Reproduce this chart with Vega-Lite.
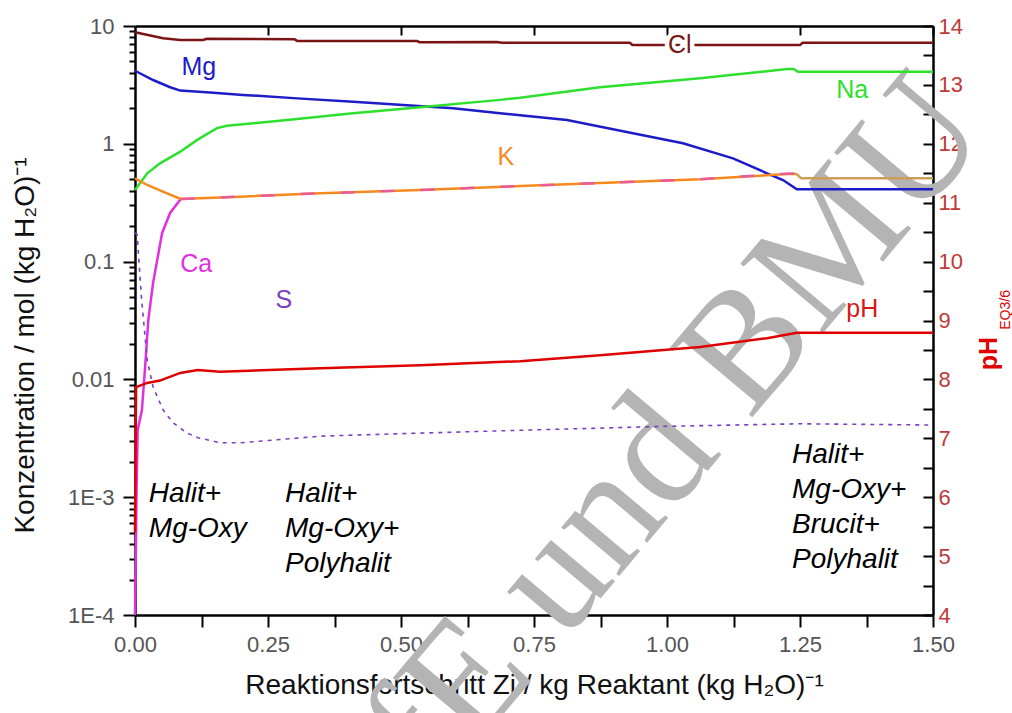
{
  "$schema": "https://vega.github.io/schema/vega-lite/v6.json",
  "width": 798,
  "height": 589,
  "autosize": "none",
  "padding": {"left": 135, "top": 26, "right": 79, "bottom": 98},
  "background": "white",
  "config": {"view": {"stroke": null}, "font": "Liberation Sans"},
  "datasets": {
    "conc": [
      {"z": 0, "c": 8.84, "s": "Cl"}, {"z": 0.053, "c": 7.87, "s": "Cl"}, {"z": 0.085, "c": 7.6, "s": "Cl"}, {"z": 0.128, "c": 7.6, "s": "Cl"}, {"z": 0.135, "c": 7.8, "s": "Cl"}, {"z": 0.3, "c": 7.7, "s": "Cl"}, {"z": 0.305, "c": 7.47, "s": "Cl"}, {"z": 0.53, "c": 7.45, "s": "Cl"}, {"z": 0.535, "c": 7.28, "s": "Cl"}, {"z": 0.68, "c": 7.3, "s": "Cl"}, {"z": 0.69, "c": 7.2, "s": "Cl"}, {"z": 0.93, "c": 7.2, "s": "Cl"}, {"z": 0.935, "c": 6.9, "s": "Cl"}, {"z": 1.25, "c": 6.9, "s": "Cl"}, {"z": 1.255, "c": 7.2, "s": "Cl"}, {"z": 1.5, "c": 7.2, "s": "Cl"},
      {"z": 0, "c": 4.17, "s": "Mg"}, {"z": 0.034, "c": 3.48, "s": "Mg"}, {"z": 0.066, "c": 3.02, "s": "Mg"}, {"z": 0.085, "c": 2.83, "s": "Mg"}, {"z": 0.141, "c": 2.72, "s": "Mg"}, {"z": 0.203, "c": 2.6, "s": "Mg"}, {"z": 0.305, "c": 2.43, "s": "Mg"}, {"z": 0.41, "c": 2.28, "s": "Mg"}, {"z": 0.504, "c": 2.13, "s": "Mg"}, {"z": 0.598, "c": 2.0, "s": "Mg"}, {"z": 0.686, "c": 1.82, "s": "Mg"}, {"z": 0.724, "c": 1.75, "s": "Mg"}, {"z": 0.812, "c": 1.59, "s": "Mg"}, {"z": 0.936, "c": 1.23, "s": "Mg"}, {"z": 1.03, "c": 1.01, "s": "Mg"}, {"z": 1.124, "c": 0.753, "s": "Mg"}, {"z": 1.188, "c": 0.562, "s": "Mg"}, {"z": 1.218, "c": 0.493, "s": "Mg"}, {"z": 1.244, "c": 0.411, "s": "Mg"}, {"z": 1.5, "c": 0.411, "s": "Mg"},
      {"z": 0, "c": 0.405, "s": "Na"}, {"z": 0.023, "c": 0.562, "s": "Na"}, {"z": 0.047, "c": 0.682, "s": "Na"}, {"z": 0.085, "c": 0.857, "s": "Na"}, {"z": 0.117, "c": 1.08, "s": "Na"}, {"z": 0.154, "c": 1.36, "s": "Na"}, {"z": 0.173, "c": 1.42, "s": "Na"}, {"z": 0.286, "c": 1.59, "s": "Na"}, {"z": 0.41, "c": 1.82, "s": "Na"}, {"z": 0.536, "c": 2.04, "s": "Na"}, {"z": 0.686, "c": 2.36, "s": "Na"}, {"z": 0.724, "c": 2.46, "s": "Na"}, {"z": 0.874, "c": 3.02, "s": "Na"}, {"z": 1.062, "c": 3.6, "s": "Na"}, {"z": 1.226, "c": 4.31, "s": "Na"}, {"z": 1.238, "c": 4.31, "s": "Na"}, {"z": 1.246, "c": 4.09, "s": "Na"}, {"z": 1.5, "c": 4.09, "s": "Na"},
      {"z": 0, "c": 0.0001, "s": "Ca"}, {"z": 0.003, "c": 0.0012, "s": "Ca"}, {"z": 0.005, "c": 0.0037, "s": "Ca"}, {"z": 0.013, "c": 0.0055, "s": "Ca"}, {"z": 0.019, "c": 0.0127, "s": "Ca"}, {"z": 0.025, "c": 0.032, "s": "Ca"}, {"z": 0.034, "c": 0.066, "s": "Ca"}, {"z": 0.051, "c": 0.175, "s": "Ca"}, {"z": 0.066, "c": 0.259, "s": "Ca"}, {"z": 0.086, "c": 0.34, "s": "Ca"},
      {"z": 0, "c": 0.509, "s": "K"}, {"z": 0.023, "c": 0.447, "s": "K"}, {"z": 0.06, "c": 0.38, "s": "K"}, {"z": 0.086, "c": 0.34, "s": "K"}, {"z": 0.197, "c": 0.356, "s": "K"}, {"z": 0.348, "c": 0.38, "s": "K"}, {"z": 0.536, "c": 0.405, "s": "K"}, {"z": 0.724, "c": 0.438, "s": "K"}, {"z": 1.062, "c": 0.5, "s": "K"}, {"z": 1.226, "c": 0.554, "s": "K"}, {"z": 1.244, "c": 0.554, "s": "K"},
      {"z": 1.244, "c": 0.554, "s": "K2"}, {"z": 1.252, "c": 0.509, "s": "K2"}, {"z": 1.5, "c": 0.509, "s": "K2"},
      {"z": 0.086, "c": 0.34, "s": "Ca2"}, {"z": 0.197, "c": 0.356, "s": "Ca2"}, {"z": 0.348, "c": 0.38, "s": "Ca2"}, {"z": 0.536, "c": 0.405, "s": "Ca2"}, {"z": 0.724, "c": 0.438, "s": "Ca2"}, {"z": 1.062, "c": 0.5, "s": "Ca2"}, {"z": 1.2, "c": 0.55, "s": "Ca2"}, {"z": 1.244, "c": 0.56, "s": "Ca2"},
      {"z": 0, "c": 0.175, "s": "S"}, {"z": 0.004, "c": 0.17, "s": "S"}, {"z": 0.012, "c": 0.05, "s": "S"}, {"z": 0.023, "c": 0.0146, "s": "S"}, {"z": 0.034, "c": 0.0086, "s": "S"}, {"z": 0.053, "c": 0.0055, "s": "S"}, {"z": 0.071, "c": 0.0043, "s": "S"}, {"z": 0.098, "c": 0.0035, "s": "S"}, {"z": 0.118, "c": 0.0032, "s": "S"}, {"z": 0.16, "c": 0.0029, "s": "S"}, {"z": 0.2, "c": 0.0029, "s": "S"}, {"z": 0.35, "c": 0.0033, "s": "S"}, {"z": 0.536, "c": 0.0035, "s": "S"}, {"z": 0.724, "c": 0.0037, "s": "S"}, {"z": 1.0, "c": 0.004, "s": "S"}, {"z": 1.25, "c": 0.0042, "s": "S"}, {"z": 1.5, "c": 0.0041, "s": "S"}
    ],
    "ph": [
      {"z": 0, "ph": 5.4}, {"z": 0.002, "ph": 7.87}, {"z": 0.023, "ph": 7.94}, {"z": 0.047, "ph": 7.98}, {"z": 0.085, "ph": 8.11}, {"z": 0.118, "ph": 8.16}, {"z": 0.16, "ph": 8.13}, {"z": 0.348, "ph": 8.19}, {"z": 0.536, "ph": 8.24}, {"z": 0.724, "ph": 8.31}, {"z": 0.874, "ph": 8.41}, {"z": 1.062, "ph": 8.55}, {"z": 1.188, "ph": 8.7}, {"z": 1.244, "ph": 8.79}, {"z": 1.5, "ph": 8.79}
    ],
    "sub": [{"z": 1.637, "ph": 9.18, "t": "EQ3/6"}],
    "labels": [
      {"z": 1.024, "c": 6.9, "s": "Cl", "t": "Cl"},
      {"z": 0.12, "c": 4.49, "s": "Mg", "t": "Mg"},
      {"z": 1.348, "c": 2.86, "s": "Na", "t": "Na"},
      {"z": 0.697, "c": 0.773, "s": "K", "t": "K"},
      {"z": 0.115, "c": 0.0955, "s": "Ca", "t": "Ca"},
      {"z": 0.28, "c": 0.0472, "s": "S", "t": "S"},
      {"z": 1.367, "c": 0.0396, "s": "pH", "t": "pH"}
    ],
    "phases": [
      {"z": 0.026, "c": 0.0014, "t": "Halit+\nMg-Oxy"},
      {"z": 0.282, "c": 0.0014, "t": "Halit+\nMg-Oxy+\nPolyhalit"},
      {"z": 1.235, "c": 0.003, "t": "Halit+\nMg-Oxy+\nBrucit+\nPolyhalit"}
    ],
    "wm": [{"z": 0.95, "c": 0.0016, "t": "BfE und BMU"}]
  },
  "layer": [
    {
      "encoding": {
        "x": {
          "field": "z", "type": "quantitative",
          "scale": {"domain": [0, 1.5], "nice": false, "zero": false},
          "axis": {
            "orient": "bottom",
            "values": [0, 0.125, 0.25, 0.375, 0.5, 0.625, 0.75, 0.875, 1, 1.125, 1.25, 1.375, 1.5],
            "labelExpr": "(datum.value * 4) % 1 == 0 ? format(datum.value, '.2f') : ''",
            "tickSize": 12, "tickColor": "black", "tickWidth": 2, "domainColor": "black", "domainWidth": 2.5,
            "labelFontSize": 22, "labelColor": "#555555", "labelPadding": 7, "labelFlush": false,
            "grid": false,
            "title": "Reaktionsfortschritt Zi / kg Reaktant (kg H₂O)⁻¹",
            "titleFontSize": 28, "titleFontWeight": "normal", "titleColor": "#111111", "titlePadding": 16
          }
        },
        "y": {
          "field": "c", "type": "quantitative",
          "scale": {"type": "log", "domain": [0.0001, 10], "nice": false},
          "axis": {
            "orient": "left",
            "values": [0.0001, 0.0002, 0.0003, 0.0004, 0.0005, 0.0006, 0.0007, 0.0008, 0.0009, 0.001, 0.002, 0.003, 0.004, 0.005, 0.006, 0.007, 0.008, 0.009, 0.01, 0.02, 0.03, 0.04, 0.05, 0.06, 0.07, 0.08, 0.09, 0.1, 0.2, 0.3, 0.4, 0.5, 0.6, 0.7, 0.8, 0.9, 1, 2, 3, 4, 5, 6, 7, 8, 9, 10],
            "labelExpr": "datum.value == 10 ? '10' : datum.value == 1 ? '1' : datum.value == 0.1 ? '0.1' : datum.value == 0.01 ? '0.01' : datum.value == 0.001 ? '1E-3' : datum.value == 0.0001 ? '1E-4' : ''",
            "tickSize": {"condition": {"test": "indexof([0.0001, 0.001, 0.01, 0.1, 1, 10], datum.value) >= 0", "value": 12}, "value": 6},
            "tickColor": "black", "tickWidth": 2, "domainColor": "black", "domainWidth": 2.5,
            "labelFontSize": 22, "labelColor": "#555555", "labelPadding": 9,
            "labelOverlap": false,
            "grid": false,
            "title": "Konzentration / mol (kg H₂O)⁻¹",
            "titleFontSize": 28, "titleFontWeight": "normal", "titleColor": "#111111", "titlePadding": 28, "titleY": 319
          }
        }
      },
      "layer": [
        {
          "data": {"name": "wm"},
          "mark": {"type": "text", "font": "Liberation Serif", "fontSize": 165, "angle": -50, "color": "#b4b4b4", "align": "center", "baseline": "middle"},
          "encoding": {"text": {"field": "t"}}
        },
        {
          "data": {"name": "conc"},
          "transform": [{"filter": "indexof(['Cl','Mg','Na','K','K2','Ca'], datum.s) >= 0"}],
          "mark": {"type": "line", "strokeWidth": 2.5, "interpolate": "linear"},
          "encoding": {
            "color": {"field": "s", "type": "nominal", "legend": null,
              "scale": {"domain": ["Cl", "Mg", "Na", "K", "K2", "Ca", "Ca2", "S", "pH"],
                        "range": ["#7b1515", "#1c1cc8", "#2ee02e", "#f5891e", "#c9a055", "#e030e0", "#e85a9a", "#7a3fc0", "#d81818"]}},
            "detail": {"field": "s"}
          }
        },
        {
          "data": {"name": "conc"},
          "transform": [{"filter": "datum.s == 'Ca2'"}],
          "mark": {"type": "line", "strokeWidth": 2.5, "strokeDash": [14, 26]},
          "encoding": {"color": {"field": "s", "type": "nominal", "legend": null}}
        },
        {
          "data": {"name": "conc"},
          "transform": [{"filter": "datum.s == 'S'"}],
          "mark": {"type": "line", "strokeWidth": 1.6, "strokeDash": [4, 5]},
          "encoding": {"color": {"field": "s", "type": "nominal", "legend": null}}
        },
        {
          "data": {"name": "labels"},
          "transform": [{"filter": "datum.s == 'Cl'"}],
          "mark": {"type": "text", "fontSize": 26, "stroke": "white", "strokeWidth": 8, "align": "center", "baseline": "middle"},
          "encoding": {"text": {"field": "t"}}
        },
        {
          "data": {"name": "labels"},
          "mark": {"type": "text", "fontSize": 25, "align": "center", "baseline": "middle"},
          "encoding": {
            "text": {"field": "t"},
            "color": {"field": "s", "type": "nominal", "legend": null}
          }
        },
        {
          "data": {"name": "phases"},
          "mark": {"type": "text", "fontSize": 28, "fontStyle": "italic", "color": "black", "align": "left", "baseline": "top", "lineBreak": "\n", "lineHeight": 35},
          "encoding": {"text": {"field": "t"}}
        }
      ]
    },
    {
      "encoding": {
        "x": {
          "field": "z", "type": "quantitative",
          "scale": {"domain": [0, 1.5], "nice": false, "zero": false},
          "axis": {
            "orient": "top",
            "values": [0.25, 0.5, 0.75, 1, 1.25, 1.5],
            "labels": false, "title": null, "grid": false,
            "tickSize": -9, "tickColor": "black", "tickWidth": 2, "domainColor": "black", "domainWidth": 2.5
          }
        },
        "y": {
          "field": "ph", "type": "quantitative",
          "scale": {"domain": [4, 14], "nice": false, "zero": false},
          "axis": {
            "orient": "right",
            "values": [4, 4.5, 5, 5.5, 6, 6.5, 7, 7.5, 8, 8.5, 9, 9.5, 10, 10.5, 11, 11.5, 12, 12.5, 13, 13.5, 14],
            "labelExpr": "datum.value % 1 == 0 ? format(datum.value, 'd') : ''",
            "tickSize": -10, "tickColor": "black", "tickWidth": 2, "domainColor": "black", "domainWidth": 2.5,
            "labelFontSize": 22, "labelColor": "#c03a3a", "labelPadding": 15,
            "labelOverlap": false,
            "grid": false,
            "title": "pH", "titleAngle": 270, "titleFontSize": 25, "titleFontWeight": "bold", "titleColor": "#e00000", "titlePadding": 39, "titleY": 327
          }
        }
      },
      "layer": [
        {
          "data": {"name": "ph"},
          "mark": {"type": "line", "strokeWidth": 2.5, "color": "#e00000"}
        },
        {
          "data": {"name": "sub"},
          "mark": {"type": "text", "fontSize": 14, "angle": 270, "color": "#e00000", "align": "center", "baseline": "middle"},
          "encoding": {"text": {"field": "t"}}
        }
      ]
    }
  ],
  "resolve": {"scale": {"y": "independent"}, "axis": {"x": "independent", "y": "independent"}}
}
